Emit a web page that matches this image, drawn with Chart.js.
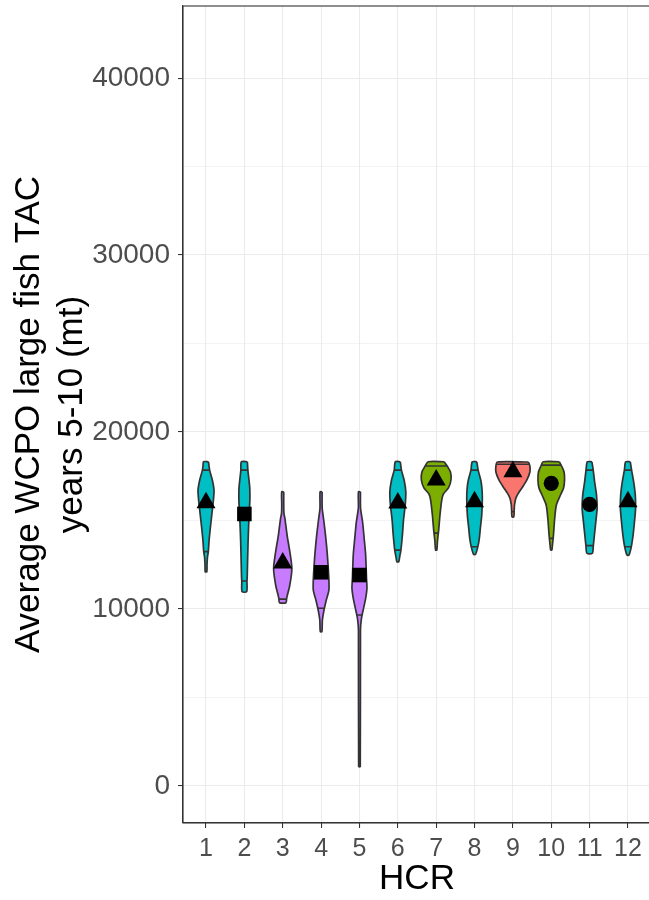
<!DOCTYPE html>
<html><head><meta charset="utf-8">
<script src="https://cdn.jsdelivr.net/npm/chart.js@4"></script>
<style>
html,body{margin:0;padding:0;background:#fff;overflow:hidden;width:649px;height:900px}
#wrap{position:absolute;left:0;top:0;width:652px;height:900px}
</style>
</head><body><div id="wrap"><canvas id="c" width="652" height="900"></canvas></div>
<script>
// ---------- data ----------
const categories = [1,2,3,4,5,6,7,8,9,10,11,12];
const xTickLabels = ['1','2','3','4','5','6','7','8','9','10','11','12'];
const yMajorTicks = [0,10000,20000,30000,40000];
const yMinorTicks = [5000,15000,25000,35000];

// violin profiles: value levels (top -> bottom) and density (relative half width)
const violinLevels = [
  [18320,18080,17850,17290,16720,16160,15590,15030,14460,13900,13240,12900,12500,12110],
  [18320,17850,17290,16840,16160,15590,14750,13800,12670,11750,11580,10980],
  [16620,15900,15400,15110,14120,13200,12430,12050,11300,10730,10560,10360],
  [16620,15700,15030,14180,13240,12430,11640,11070,10510,9940,9380,8720],
  [16620,15700,14930,13990,13050,11780,11170,10600,10040,9470,8800,1100],
  [18320,17850,17290,16610,15880,15030,14180,13330,12990,12670],
  [18320,18080,17740,17290,16840,16500,16160,15310,14460,13840,13330],
  [18320,17850,17290,16820,16250,15310,14560,13990,13520,13090],
  [18305,18080,17740,17290,16840,16550,16270,15880,15590,15210],
  [18320,18080,17740,17290,16840,16440,15880,15030,14180,13620,13330],
  [18320,17850,17180,16440,15690,14930,14180,13580,13150],
  [18320,17850,17180,16440,15690,14930,14180,13520,13050]
];
const violinDensity = [
  [2.5,3.0,3.6,6.3,8,7.4,6.3,5.2,4.1,3.1,2.3,1.4,1.0,0.8],
  [3.0,3.5,4.6,5.4,5.5,5.0,4.3,3.7,3.2,2.8,2.6,2.3],
  [1.0,1.0,1.2,2.2,4.5,7.2,9,8.9,6.9,4.4,3.8,3.3],
  [1.0,1.1,2.6,4.4,6.0,7.0,7.8,7.8,5.2,2.9,1.3,0.8],
  [1.0,1.1,3.1,4.7,6.2,7.0,7.5,6.2,4.1,2,1.0,0.8],
  [2.5,3.6,6.3,8,7.4,5.7,4.6,3.1,2,0.9],
  [8,11,14.3,14.8,12.3,7.2,5.6,3.8,2.5,1.3,0.6],
  [2.3,3.6,6.2,7.4,7.8,7.2,5.8,4.8,3.3,1],
  [15.5,17,17,14,9,5.5,3,1.6,1.3,0.9],
  [8,10.3,12.8,13.3,12.3,9.2,5.1,3.3,2.2,1.2,0.6],
  [2.3,3.6,5,6.9,7.5,6.2,4.8,3.7,2.7],
  [2.3,3.6,5.7,7.3,7.6,6.5,5.1,3.3,1]
];
const quantileLow  = [13240,11580,10560,10040,9660,13330,14290,13520,15500,13990,13580,13520];
const quantileHigh = [17850,17850,null,null,null,17850,18080,17850,18175,18130,17850,17850];
const centerValues = [16000,15370,12600,12075,11920,15990,17290,16060,17760,17100,15915,16060];
const centerShape  = ['triangle','square','triangle','square','square','triangle','triangle','triangle','triangle','circle','circle','triangle'];
const violinGroup  = ['A','A','B','B','B','A','C','A','D','C','A','A'];

// ---------- styles ----------
const groupColor = {A:'#00BFC4', B:'#C77CFF', C:'#7CAE00', D:'#F8766D'};
const shapeStyle = {triangle:{style:'triangle', r:11}, square:{style:'rect', r:10.3}, circle:{style:'circle', r:7.6}};
const X_PER_DENSITY = 1/38.36;
const OUTLINE = '#333333';
const FONT = "'Liberation Sans', Arial, sans-serif";

function halfWidthAt(i, v){
  const L = violinLevels[i], D = violinDensity[i];
  for (let k = 0; k < L.length - 1; k++){
    if (v <= L[k] && v >= L[k+1]){
      const t = (L[k] - v) / (L[k] - L[k+1]);
      return (D[k] + t * (D[k+1] - D[k])) * X_PER_DENSITY;
    }
  }
  return 0;
}

const datasets = [];
categories.forEach((c, i) => {
  const L = violinLevels[i], D = violinDensity[i];
  const pts = [];
  for (let k = 0; k < L.length; k++) pts.push({x: c + D[k]*X_PER_DENSITY, y: L[k]});
  for (let k = L.length - 1; k >= 0; k--) pts.push({x: c - D[k]*X_PER_DENSITY, y: L[k]});
  pts.push({x: pts[0].x, y: pts[0].y});
  datasets.push({
    type:'line', data: pts, fill:'shape', showLine:true,
    backgroundColor: groupColor[violinGroup[i]], borderColor: OUTLINE, borderWidth: 1.7,
    pointRadius: 0, pointHoverRadius: 0, tension: 0.25, order: 2
  });
});

const qPts = [];
categories.forEach((c, i) => {
  [quantileLow[i], quantileHigh[i]].forEach(q => {
    if (q === null) return;
    const w = halfWidthAt(i, q);
    qPts.push({x: c - w, y: q}, {x: c + w, y: q}, {x: c, y: null});
  });
});
datasets.push({type:'line', data: qPts, fill:false, spanGaps:false, borderColor: OUTLINE, borderWidth: 1.6, pointRadius: 0, tension: 0, order: 1});

datasets.push({
  type:'line', showLine:false,
  data: categories.map((c, i) => ({x: c, y: centerValues[i]})),
  pointStyle: centerShape.map(s => shapeStyle[s].style),
  pointRadius: centerShape.map(s => shapeStyle[s].r),
  pointBackgroundColor: '#000000', pointBorderWidth: 0, pointBorderColor: '#000000',
  order: 0
});

const panelBorder = {
  id: 'panelBorder',
  afterDatasetsDraw(chart){
    const {ctx, chartArea: a} = chart;
    ctx.save();
    ctx.strokeStyle = OUTLINE; ctx.lineWidth = 1.1;
    ctx.strokeRect(a.left, a.top, a.right - a.left, a.bottom - a.top);
    ctx.restore();
  }
};

new Chart(document.getElementById('c'), {
  type: 'line',
  data: { datasets },
  plugins: [panelBorder],
  options: {
    responsive: false, animation: false, devicePixelRatio: 1,
    layout: { autoPadding: false, padding: {top: 6, right: 1, bottom: 0, left: 0} },
    plugins: { legend: {display: false}, tooltip: {enabled: false} },
    scales: {
      x: {
        type: 'linear', min: 0.4, max: 12.6,
        afterBuildTicks: s => { s.ticks = categories.map(v => ({value: v})); },
        afterFit: s => { s.height = 77; s.paddingLeft = 0; s.paddingRight = 0; },
        ticks: { autoSkip: false, maxRotation: 0, padding: 6, color: '#4D4D4D',
                 font: {family: FONT, size: 25},
                 callback: v => xTickLabels[categories.indexOf(v)] },
        grid: { color: '#EBEBEB', lineWidth: 1.07, tickColor: OUTLINE, tickWidth: 1.07, tickLength: 5 },
        border: { color: OUTLINE, width: 1.1 },
        title: { display: true, text: 'HCR', color: '#000000',
                 font: {family: FONT, size: 35, lineHeight: 1}, padding: {top: 0, bottom: 3} }
      },
      y: {
        type: 'linear', min: -2090, max: 44070,
        afterBuildTicks: s => { s.ticks = yMajorTicks.concat(yMinorTicks).sort((a,b)=>a-b).map(v => ({value: v})); },
        afterFit: s => { s.width = 183; s.paddingTop = 0; s.paddingBottom = 0; },
        ticks: { padding: 8, color: '#4D4D4D', font: {family: FONT, size: 28},
                 callback: v => yMajorTicks.includes(v) ? String(v) : '' },
        grid: {
          color: '#EBEBEB',
          lineWidth: ctx => (ctx.tick && yMinorTicks.includes(ctx.tick.value)) ? 0.53 : 1.07,
          tickColor: ctx => (ctx.tick && yMinorTicks.includes(ctx.tick.value)) ? 'rgba(0,0,0,0)' : OUTLINE,
          tickWidth: 1.07, tickLength: 5
        },
        border: { color: OUTLINE, width: 1.1 },
        title: { display: true, text: ['Average WCPO large fish TAC', 'years 5-10 (mt)'], color: '#000000',
                 font: {family: FONT, size: 35, lineHeight: 1.21}, padding: {top: 8.5, bottom: 0} }
      }
    }
  }
});
</script>
</body></html>
